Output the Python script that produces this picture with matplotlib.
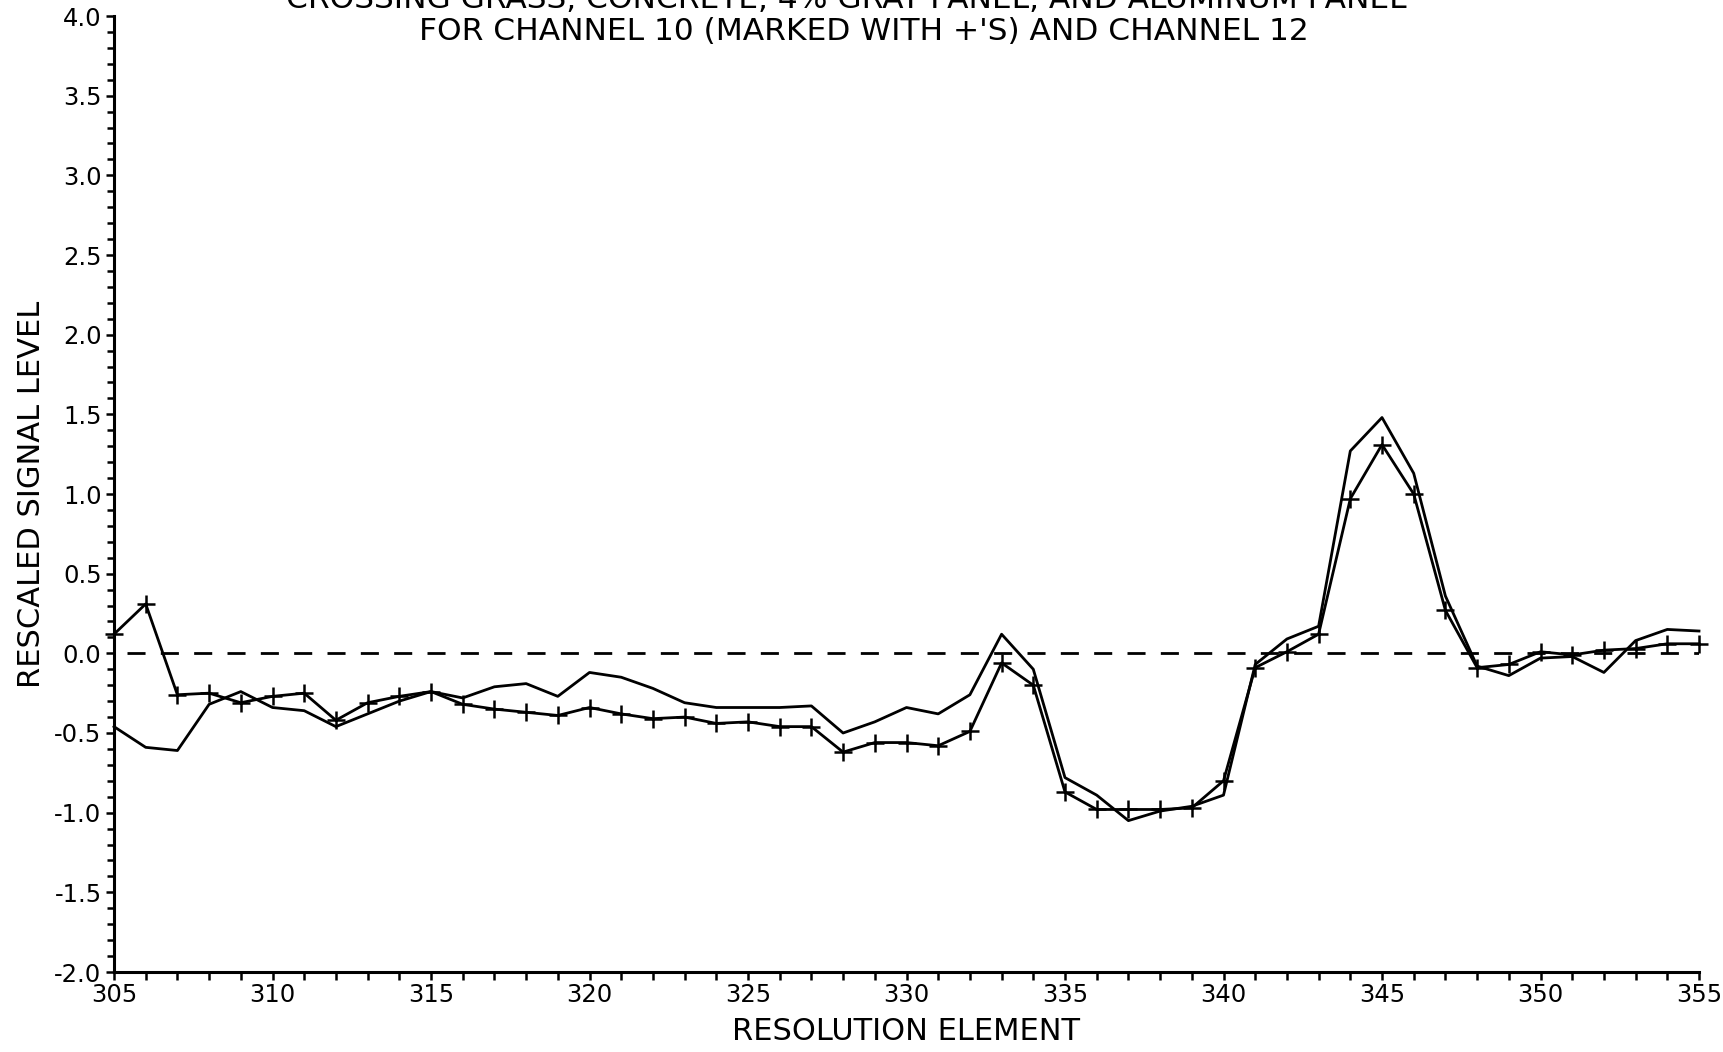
import matplotlib
matplotlib.use("Agg")
import matplotlib.pyplot as plt
from matplotlib.ticker import MultipleLocator, FormatStrFormatter

plt.rcParams['font.family'] = ['DejaVu Sans']

elements = list(range(305, 356))
channel10 = [0.12, 0.31, -0.26, -0.25, -0.31, -0.27, -0.25, -0.42, -0.31, -0.27,
             -0.24, -0.32, -0.35, -0.37, -0.39, -0.34, -0.38, -0.41, -0.40, -0.44,
             -0.43, -0.46, -0.46, -0.62, -0.56, -0.56, -0.58, -0.49, -0.06, -0.20,
             -0.87, -0.98, -0.98, -0.98, -0.97, -0.80, -0.09, 0.01, 0.12, 0.97,
             1.31, 1.00, 0.27, -0.09, -0.07, 0.01, -0.01, 0.02, 0.03, 0.06, 0.06]
channel12 = [-0.46, -0.59, -0.61, -0.32, -0.24, -0.34, -0.36, -0.46, -0.38, -0.30,
             -0.24, -0.28, -0.21, -0.19, -0.27, -0.12, -0.15, -0.22, -0.31, -0.34,
             -0.34, -0.34, -0.33, -0.50, -0.43, -0.34, -0.38, -0.26, 0.12, -0.10,
             -0.78, -0.89, -1.05, -0.99, -0.96, -0.89, -0.07, 0.09, 0.17, 1.27,
             1.48, 1.13, 0.36, -0.08, -0.14, -0.03, -0.02, -0.12, 0.08, 0.15, 0.14]

title_line1 = "CROSSING GRASS, CONCRETE, 4% GRAY PANEL, AND ALUMINUM PANEL"
title_line2 = "FOR CHANNEL 10 (MARKED WITH +'S) AND CHANNEL 12"
xlabel = "RESOLUTION ELEMENT"
ylabel = "RESCALED SIGNAL LEVEL"

W, H = 1723, 1052
fig = plt.figure(figsize=(W / 100, H / 100), dpi=100)
ax = fig.add_axes([114 / W, 1 - 972 / H, (1699 - 114) / W, (972 - 16) / H])

ax.plot(elements, channel12, color='black', lw=2.0, clip_on=False)
ax.plot(elements, channel10, color='black', lw=2.0, marker='+', ms=13, mew=1.8,
        clip_on=False)
ax.axhline(0, xmin=0.008, xmax=1.0, color='black', lw=2.0, dashes=(6.5, 5.5))

ax.set_xlim(305, 355)
ax.set_ylim(-2.0, 4.0)
ax.spines['top'].set_visible(False)
ax.spines['right'].set_visible(False)
for s in ('left', 'bottom'):
    ax.spines[s].set_linewidth(2.2)

ax.xaxis.set_major_locator(MultipleLocator(5))
ax.xaxis.set_minor_locator(MultipleLocator(1))
ax.yaxis.set_major_locator(MultipleLocator(0.5))
ax.yaxis.set_minor_locator(MultipleLocator(0.1))
ax.yaxis.set_major_formatter(FormatStrFormatter('%.1f'))
ax.tick_params(axis='both', which='both', direction='out', width=1.8, color='black')
ax.tick_params(axis='x', which='both', length=6, labelsize=17.5, pad=2)
ax.tick_params(axis='y', which='major', length=6, labelsize=17.5, pad=3)
ax.tick_params(axis='y', which='minor', length=5)

ax.set_xlabel(xlabel, fontsize=22)
ax.xaxis.set_label_coords(0.5, -0.047)
ax.set_ylabel(ylabel, fontsize=22)
ax.yaxis.set_label_coords(-0.043, 0.5)

fig.text(846 / W, 1 - 8 / H, title_line1, ha='center', va='baseline', fontsize=22.5)
fig.text(864 / W, 1 - 40 / H, title_line2, ha='center', va='baseline', fontsize=22.5)

fig.savefig("out.png", dpi=100, facecolor='white')
